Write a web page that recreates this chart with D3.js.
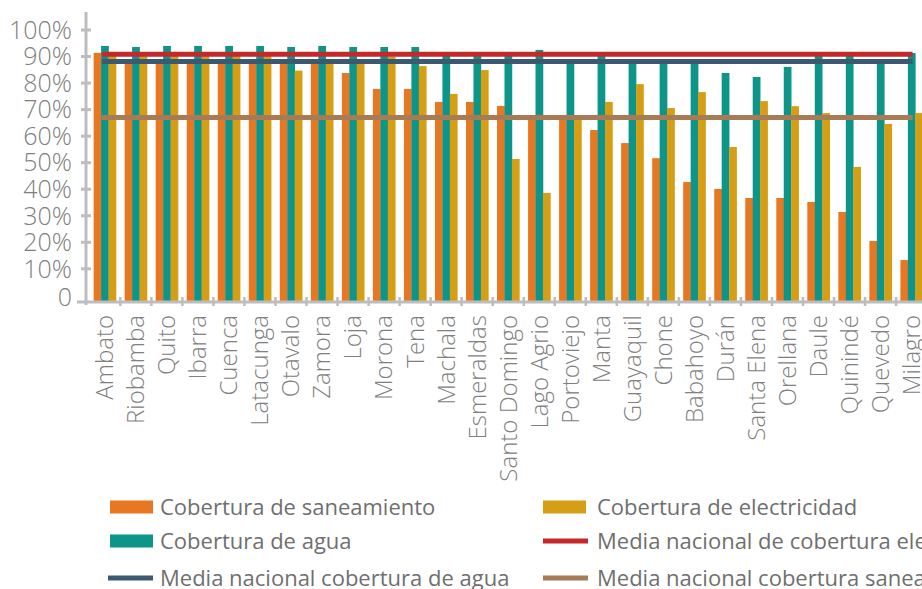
<!DOCTYPE html>
<html>
<head>
<meta charset="utf-8">
<script src="https://cdn.jsdelivr.net/npm/d3@7"></script>
<style>
  html, body { margin: 0; padding: 0; background: #fff; }
  svg { display: block; font-family: "Open Sans", "Lato", sans-serif; }
</style>
</head>
<body>
<svg id="chart" width="922" height="589"></svg>
<script>
const categories = ["Ambato","Riobamba","Quito","Ibarra","Cuenca","Latacunga","Otavalo","Zamora","Loja","Morona","Tena","Machala","Esmeraldas","Santo Domingo","Lago Agrio","Portoviejo","Manta","Guayaquil","Chone","Babahoyo","Durán","Santa Elena","Orellana","Daule","Quinindé","Quevedo","Milagro"];
const saneamiento = [0.914,0.875,0.875,0.875,0.875,0.875,0.875,0.875,0.838,0.778,0.778,0.729,0.729,0.714,0.67,0.67,0.623,0.574,0.517,0.427,0.401,0.367,0.367,0.352,0.314,0.205,0.133];
const agua = [0.94,0.936,0.94,0.94,0.94,0.94,0.936,0.94,0.936,0.936,0.936,0.905,0.905,0.905,0.925,0.875,0.905,0.875,0.875,0.875,0.838,0.823,0.861,0.905,0.905,0.875,0.913];
const electricidad = [0.905,0.905,0.905,0.905,0.905,0.905,0.847,0.875,0.875,0.9,0.864,0.759,0.849,0.514,0.386,0.67,0.729,0.796,0.706,0.766,0.559,0.732,0.713,0.687,0.484,0.646,0.687];
const mediaElectricidad = 0.909;
const mediaAgua = 0.881;
const mediaSaneamiento = 0.67;
const yTicks = [0,0.1,0.2,0.3,0.4,0.5,0.6,0.7,0.8,0.9,1.0];
const yTickLabels = ["0","10%","20%","30%","40%","50%","60%","70%","80%","90%","100%"];
const seriesNames = ["Cobertura de saneamiento","Cobertura de agua","Cobertura de electricidad"];
const lineNames = ["Media nacional de cobertura electricidad","Media nacional cobertura de agua","Media nacional cobertura saneamiento"];

const colors = {san:"#e87722", agua:"#0e958a", elec:"#d69e14", mElec:"#c4282b", mAgua:"#3b5a72", mSan:"#a67b56"};
const axisColor = "#bdbdbd";
const textColor = "#808080";

const svg = d3.select("#chart");

const x = d3.scaleBand().domain(categories).range([89.3, 89.3 + 27*31.03]).paddingInner(0.28).paddingOuter(0.14);
const xi = d3.scaleBand().domain(["san","agua","elec"]).range([0, x.bandwidth()]);
const y = d3.scaleLinear().domain([-0.025, 1]).range([302, 30]);
const yBase = y(-0.025);

const rows = categories.map((c,i)=>({c, san:saneamiento[i], agua:agua[i], elec:electricidad[i]}));

// bars
const g = svg.append("g");
["san","agua","elec"].forEach(k=>{
  g.selectAll("rect."+k).data(rows).enter().append("rect")
    .attr("class",k)
    .attr("x", d=>x(d.c)+xi(k))
    .attr("width", xi.bandwidth()+0.3)
    .attr("y", d=>y(d[k]))
    .attr("height", d=>yBase - y(d[k]))
    .attr("fill", colors[k]);
});

// mean lines
const first = x(categories[0]) + x.bandwidth()/2;
const last = x(categories[categories.length-1]) + x.bandwidth()/2;
[[mediaSaneamiento, colors.mSan],[mediaAgua, colors.mAgua],[mediaElectricidad, colors.mElec]].forEach(([v,col])=>{
  svg.append("line").attr("x1", first - 3).attr("x2", last + 1)
    .attr("y1", y(v)).attr("y2", y(v))
    .attr("stroke", col).attr("stroke-width", 5);
});

// y axis
svg.append("line").attr("x1",86).attr("x2",86).attr("y1",12).attr("y2",305)
  .attr("stroke",axisColor).attr("stroke-width",3);
svg.selectAll("line.ytick").data(yTicks.filter(t=>t>0)).enter().append("line")
  .attr("class","ytick").attr("x1",81).attr("x2",91)
  .attr("y1",d=>y(d)).attr("y2",d=>y(d))
  .attr("stroke",axisColor).attr("stroke-width",3);
svg.selectAll("text.ylab").data(yTicks).enter().append("text")
  .attr("class","ylab")
  .attr("x",72).attr("y",(d,i)=> i===0 ? y(d)+2 : y(d))
  .attr("dy","0.35em").attr("text-anchor","end")
  .attr("font-size",25).attr("font-weight",300).attr("fill",textColor)
  .text((d,i)=>yTickLabels[i]);

// x axis
svg.append("line").attr("x1",77).attr("x2",922).attr("y1",302).attr("y2",302)
  .attr("stroke",axisColor).attr("stroke-width",3);
const step = x.step();
svg.selectAll("line.xtick").data(categories).enter().append("line")
  .attr("class","xtick")
  .attr("x1",d=>x(d)+x.bandwidth()+step*0.14).attr("x2",d=>x(d)+x.bandwidth()+step*0.14)
  .attr("y1",297).attr("y2",306)
  .attr("stroke",axisColor).attr("stroke-width",2.5);

svg.selectAll("text.xlab").data(categories).enter().append("text")
  .attr("class","xlab")
  .attr("transform", d=>`translate(${x(d)+x.bandwidth()/2},315) rotate(-90)`)
  .attr("dy","0.35em").attr("text-anchor","end")
  .attr("font-size",24).attr("font-weight",300).attr("fill",textColor)
  .text(d=>d);

// legend
const legend = [
  {type:"rect", col:colors.san, label:seriesNames[0], x:110, y:507},
  {type:"rect", col:colors.elec, label:seriesNames[2], x:543, y:507},
  {type:"rect", col:colors.agua, label:seriesNames[1], x:110, y:541},
  {type:"line", col:colors.mElec, label:lineNames[0], x:543, y:541},
  {type:"line", col:colors.mAgua, label:lineNames[1], x:108, y:578},
  {type:"line", col:colors.mSan, label:lineNames[2], x:543, y:578}
];
const lg = svg.selectAll("g.leg").data(legend).enter().append("g").attr("class","leg");
lg.each(function(d){
  const s = d3.select(this);
  if (d.type==="rect") {
    s.append("rect").attr("x",d.x).attr("y",d.y-6.5).attr("width",43).attr("height",13).attr("fill",d.col);
  } else {
    s.append("line").attr("x1",d.x).attr("x2",d.x+45).attr("y1",d.y).attr("y2",d.y)
      .attr("stroke",d.col).attr("stroke-width",5);
  }
  s.append("text").attr("x", d.x < 200 ? 160 : 597).attr("y",d.y).attr("dy","0.35em")
    .attr("font-size",22).attr("fill","#6f6f6f").text(d.label);
});
</script>
</body>
</html>
